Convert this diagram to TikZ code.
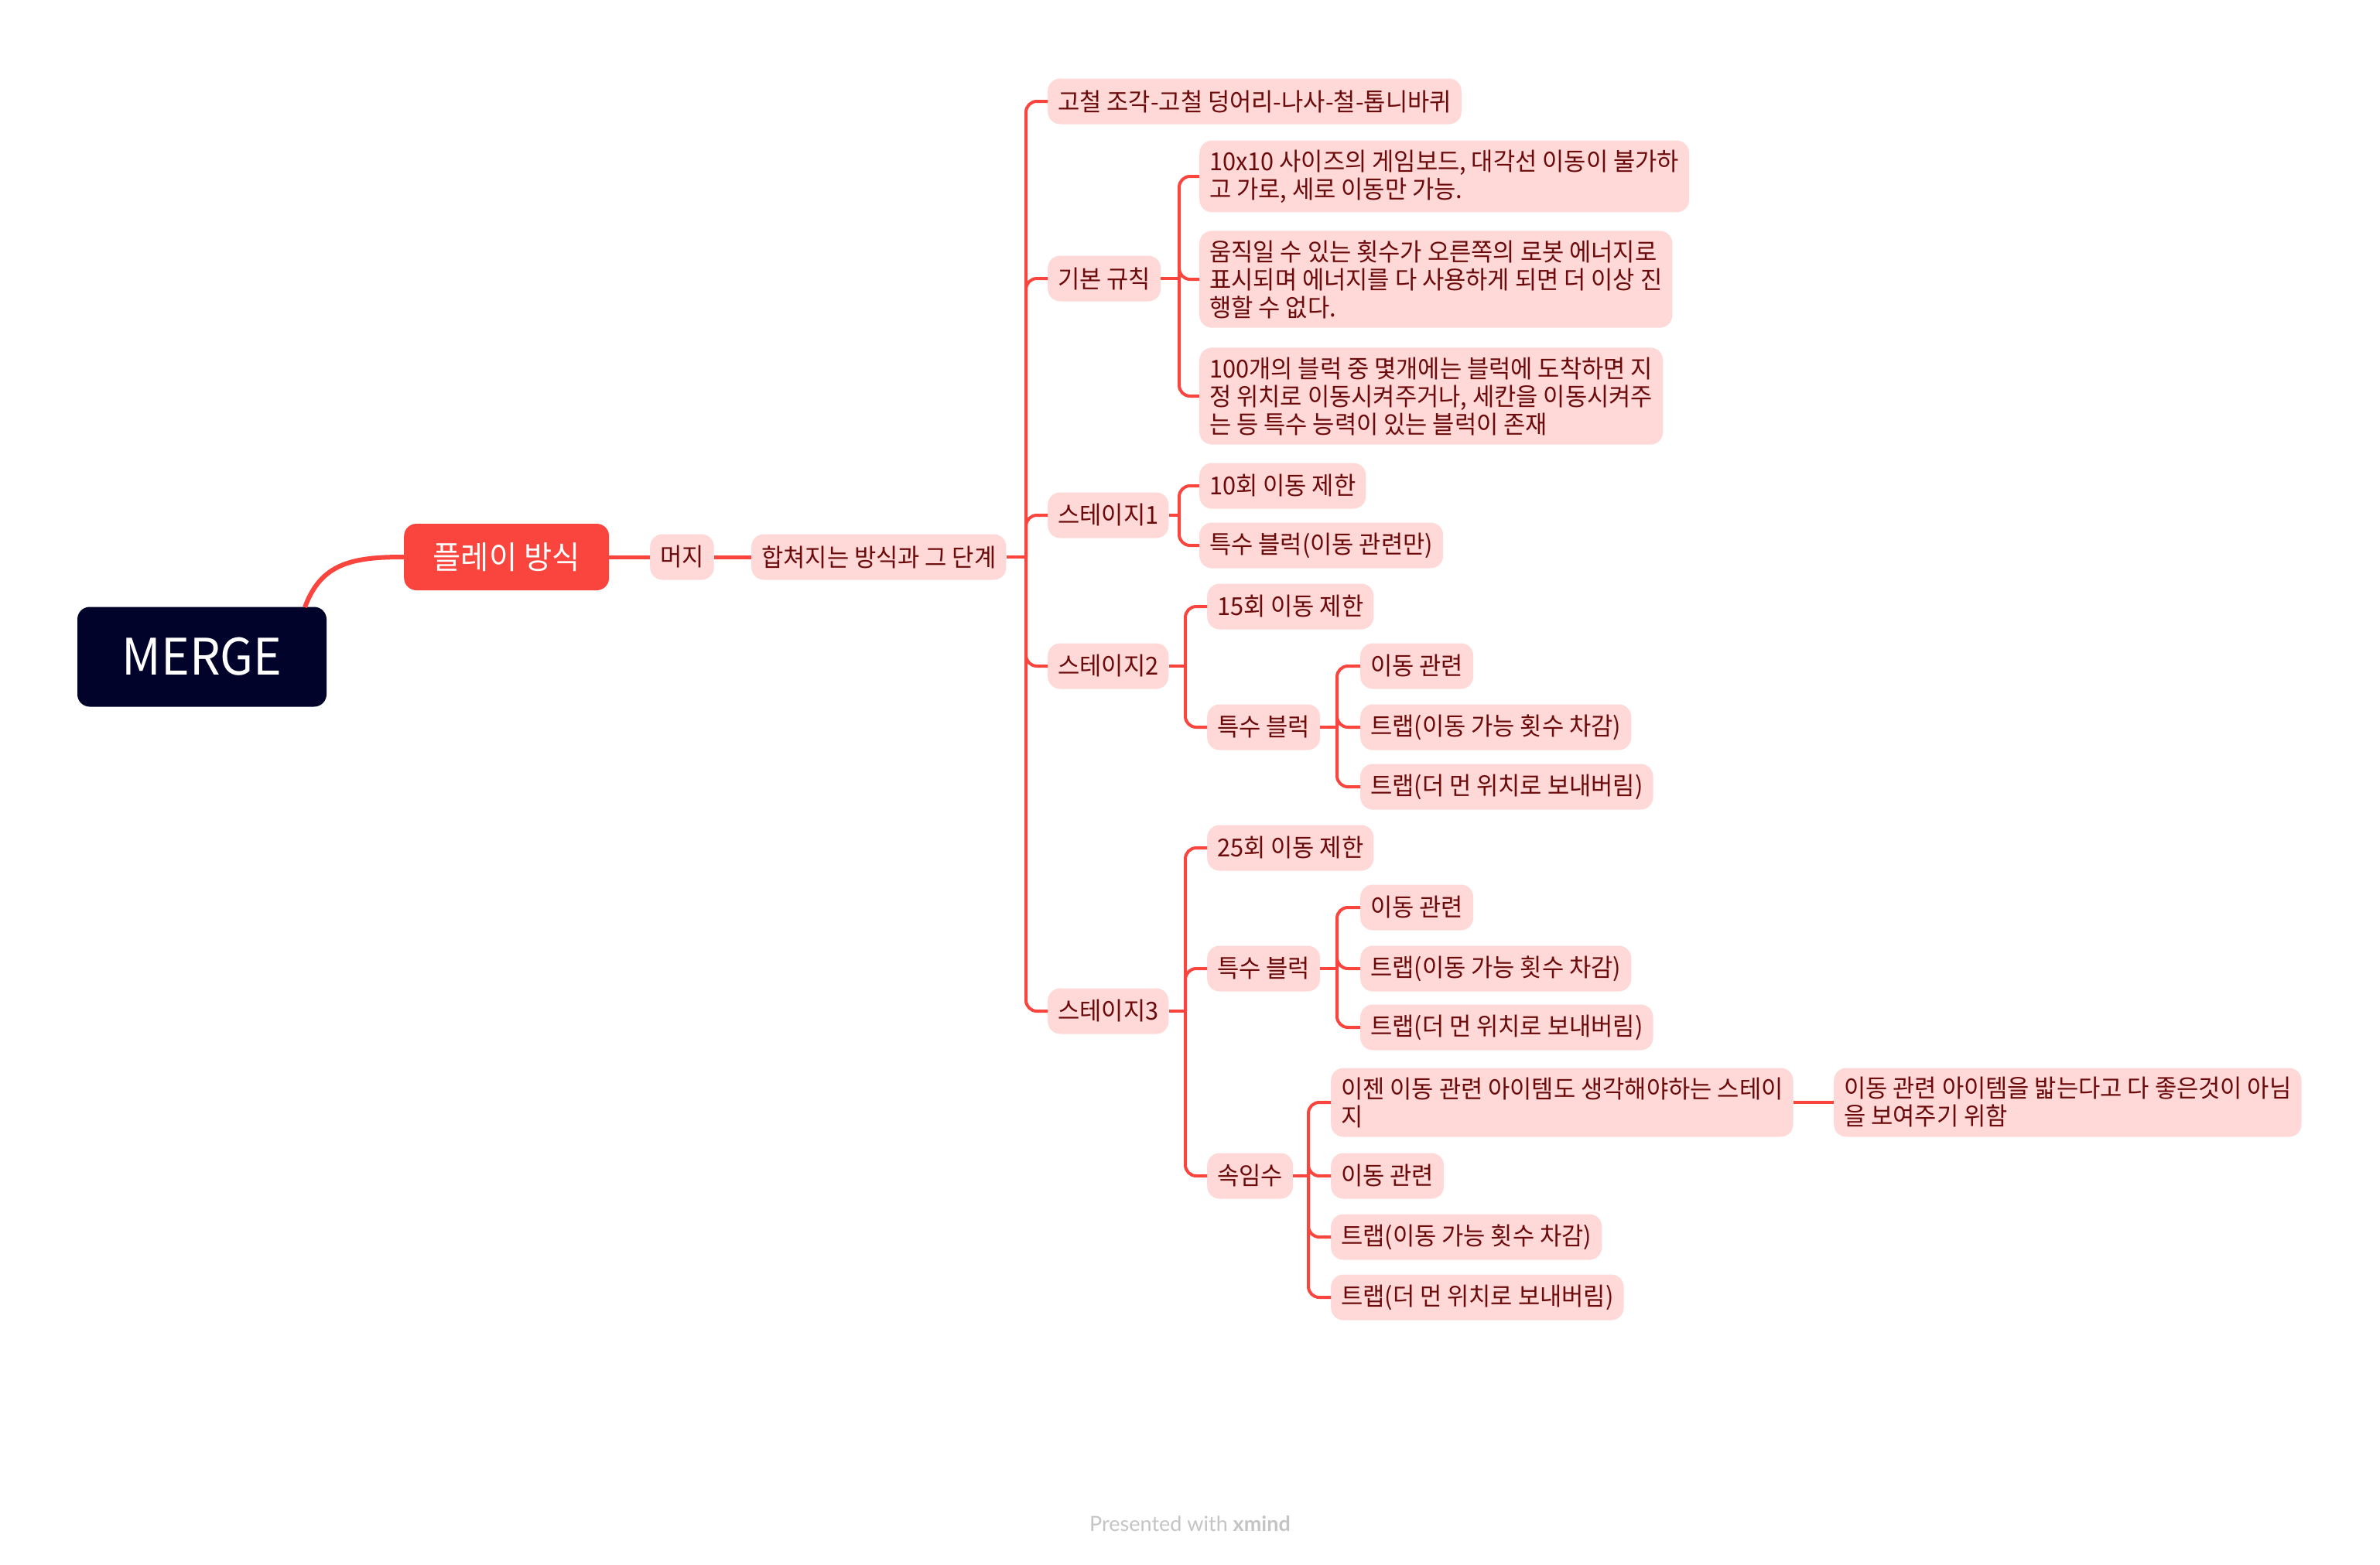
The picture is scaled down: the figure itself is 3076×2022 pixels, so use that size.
\documentclass[tikz,border=0pt]{standalone}
\usepackage{fontspec}
\newfontfamily\kr[FakeStretch=0.96]{Noto Sans CJK KR}
\newfontfamily\latofont{Lato}
\definecolor{conn}{HTML}{F9453E}
\definecolor{pinkbg}{HTML}{FFD8D8}
\definecolor{dred}{HTML}{6B0A0A}
\definecolor{navy}{HTML}{02032A}
\definecolor{foot}{HTML}{C4C4C4}
\tikzset{
  box/.style={fill=pinkbg, rounded corners=16, text=dred, font=\kr\fontsize{32}{36}\selectfont,
    inner xsep=13, inner ysep=12, minimum height=59, align=left, anchor=west},
  link/.style={draw=conn, line width=4, rounded corners=14},
  thick link/.style={draw=conn, line width=5},
}
\begin{document}
\begin{tikzpicture}[x=1pt, y=-1pt]
\useasboundingbox (0,0) rectangle (3076,2022);
% root
\node[fill=navy, rounded corners=16, text=white, minimum width=322, minimum height=129,
  font=\kr\fontsize{65}{70}\selectfont] (merge) at (261,849) {MERGE};
\node[fill=conn, rounded corners=16, text=white, minimum width=265, minimum height=86,
  font=\kr\fontsize{41}{44}\selectfont, anchor=west] (play) at (522,720) {플레이 방식};
\coordinate (mstart) at (394,785);
\draw[draw=conn, line width=6] (mstart) .. controls (415,728) and (455,720) .. (play.west);
\node[box] (mj) at (840,720) {머지};
\node[box] (hap) at (971,720) {합쳐지는 방식과 그 단계};
\draw[thick link] (play.east) -- (mj.west);
\draw[thick link] (mj.east) -- (hap.west);
\coordinate (j0) at (1326,720);
% level 3
\node[box] (g) at (1354,131) {고철 조각-고철 덩어리-나사-철-톱니바퀴};
\node[box] (gb) at (1354,360) {기본 규칙};
\node[box] (s1) at (1354,666) {스테이지1};
\node[box] (s2) at (1354,861) {스테이지2};
\node[box] (s3) at (1354,1307) {스테이지3};
\draw[link] (hap.east) -- (j0);
\foreach \c in {g,gb,s1,s2,s3} \draw[link] (j0) |- (\c.west);
% 기본 규칙
\coordinate (jgb) at (1524,360);
\node[box] (gb1) at (1550,228) {10x10 사이즈의 게임보드, 대각선 이동이 불가하\\고 가로, 세로 이동만 가능.};
\node[box] (gb2) at (1550,361) {움직일 수 있는 횟수가 오른쪽의 로봇 에너지로\\표시되며 에너지를 다 사용하게 되면 더 이상 진\\행할 수 없다.};
\node[box] (gb3) at (1550,512) {100개의 블럭 중 몇개에는 블럭에 도착하면 지\\정 위치로 이동시켜주거나, 세칸을 이동시켜주\\는 등 특수 능력이 있는 블럭이 존재};
\draw[link] (gb.east) -- (jgb);
\foreach \c in {gb1,gb2,gb3} \draw[link] (jgb) |- (\c.west);
% 스테이지1
\coordinate (js1) at (1524,666);
\node[box] (s1a) at (1550,628) {10회 이동 제한};
\node[box] (s1b) at (1550,705) {특수 블럭(이동 관련만)};
\draw[link] (s1.east) -- (js1);
\foreach \c in {s1a,s1b} \draw[link] (js1) |- (\c.west);
% 스테이지2
\coordinate (js2) at (1532,861);
\node[box] (s2a) at (1560,784) {15회 이동 제한};
\node[box] (s2b) at (1560,940) {특수 블럭};
\draw[link] (s2.east) -- (js2);
\foreach \c in {s2a,s2b} \draw[link] (js2) |- (\c.west);
\coordinate (js2b) at (1728,940);
\node[box] (s2b1) at (1758,861) {이동 관련};
\node[box] (s2b2) at (1758,940) {트랩(이동 가능 횟수 차감)};
\node[box] (s2b3) at (1758,1017) {트랩(더 먼 위치로 보내버림)};
\draw[link] (s2b.east) -- (js2b);
\foreach \c in {s2b1,s2b2,s2b3} \draw[link] (js2b) |- (\c.west);
% 스테이지3
\coordinate (js3) at (1532,1307);
\node[box] (s3a) at (1560,1096) {25회 이동 제한};
\node[box] (s3b) at (1560,1252) {특수 블럭};
\node[box] (s3c) at (1560,1520) {속임수};
\draw[link] (s3.east) -- (js3);
\foreach \c in {s3a,s3b,s3c} \draw[link] (js3) |- (\c.west);
\coordinate (js3b) at (1728,1252);
\node[box] (s3b1) at (1758,1173) {이동 관련};
\node[box] (s3b2) at (1758,1252) {트랩(이동 가능 횟수 차감)};
\node[box] (s3b3) at (1758,1328) {트랩(더 먼 위치로 보내버림)};
\draw[link] (s3b.east) -- (js3b);
\foreach \c in {s3b1,s3b2,s3b3} \draw[link] (js3b) |- (\c.west);
\coordinate (js3c) at (1691,1520);
\node[box] (s3c1) at (1720,1425) {이젠 이동 관련 아이템도 생각해야하는 스테이\\지};
\node[box] (s3c2) at (1720,1520) {이동 관련};
\node[box] (s3c3) at (1720,1599) {트랩(이동 가능 횟수 차감)};
\node[box] (s3c4) at (1720,1677) {트랩(더 먼 위치로 보내버림)};
\draw[link] (s3c.east) -- (js3c);
\foreach \c in {s3c1,s3c2,s3c3,s3c4} \draw[link] (js3c) |- (\c.west);
\node[box] (note) at (2370,1425) {이동 관련 아이템을 밟는다고 다 좋은것이 아님\\을 보여주기 위함};
\draw[link] (s3c1.east) -- (note.west);
% footer
\node[font=\latofont\fontsize{27}{30}\selectfont, text=foot] (footer) at (1538,1970) {Presented with \textbf{xmind}};
\end{tikzpicture}
\end{document}
